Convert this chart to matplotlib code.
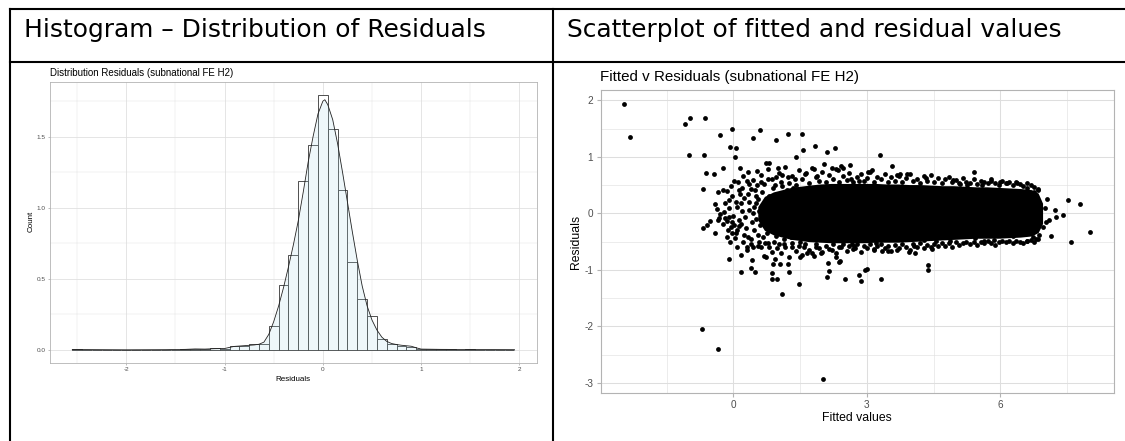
"""Residual diagnostics table: histogram of residuals and fitted-vs-residual scatter."""

from pathlib import Path

import matplotlib

matplotlib.use("Agg")
import matplotlib.pyplot as plt
from matplotlib.lines import Line2D

FIG_W, FIG_H = 1125, 441

HEADER_LEFT = "Histogram – Distribution of Residuals"
HEADER_RIGHT = "Scatterplot of fitted and residual values"

# histogram on density scale, bin width 0.1
BIN_CENTERS = [
    -2.5, -2.4, -2.3, -2.2, -2.1, -2.0, -1.9, -1.8, -1.7, -1.6, -1.5, -1.4, -1.3, -1.2, -1.1,
    -1.0, -0.9, -0.8, -0.7, -0.6, -0.5, -0.4, -0.3, -0.2, -0.1, 0.0, 0.1, 0.2, 0.3, 0.4,
    0.5, 0.6, 0.7, 0.8, 0.9, 1.0, 1.1, 1.2, 1.3, 1.4, 1.5, 1.6, 1.7, 1.8, 1.9,
]
BIN_DENSITY = [
    0.004, 0.0, 0.0, 0.0, 0.0, 0.0, 0.0, 0.0, 0.0, 0.003, 0.002, 0.004, 0.008, 0.005, 0.012,
    0.005, 0.030, 0.028, 0.040, 0.042, 0.170, 0.454, 0.670, 1.190, 1.440, 1.795, 1.554, 1.128, 0.620, 0.358,
    0.236, 0.075, 0.040, 0.030, 0.023, 0.004, 0.004, 0.006, 0.004, 0.0, 0.004, 0.003, 0.002, 0.002, 0.002,
]
BIN_WIDTH = 0.1

# kernel density curve
DENS_X = [
    -2.55, -2.0, -1.6, -1.4, -1.3, -1.2, -1.1, -1.0, -0.95, -0.9, -0.8, -0.7, -0.65, -0.6, -0.55,
    -0.5, -0.45, -0.4, -0.35, -0.3, -0.25, -0.2, -0.15, -0.1, -0.05, 0.0, 0.02, 0.05, 0.1, 0.15,
    0.2, 0.25, 0.3, 0.35, 0.4, 0.45, 0.5, 0.55, 0.6, 0.65, 0.7, 0.75, 0.8, 0.9, 0.95,
    1.0, 1.2, 1.5, 1.95,
]
DENS_Y = [
    0.003, 0.001, 0.002, 0.004, 0.007, 0.006, 0.009, 0.010, 0.018, 0.025, 0.030, 0.035, 0.040, 0.055, 0.110,
    0.200, 0.310, 0.440, 0.585, 0.740, 0.910, 1.110, 1.320, 1.500, 1.660, 1.750, 1.760, 1.725, 1.620, 1.450,
    1.250, 1.040, 0.830, 0.630, 0.450, 0.310, 0.210, 0.140, 0.090, 0.060, 0.045, 0.038, 0.033, 0.026, 0.015,
    0.006, 0.004, 0.003, 0.002,
]

# scatter: individually visible points (fitted, residual)
POINTS_FITTED = [
    -2.46, -2.32, -1.09, -0.98, -0.64, -0.29, -1.00, -0.66, -0.24, -0.61, -0.43, -0.69, -0.35, -0.41,
    -0.37, -0.29, -0.35, -0.53, -0.58, -0.68, -0.41, -0.71, -0.35,
    -0.03, 0.60, 0.45, -0.08, 0.05, 0.03, 0.95, 1.22, 1.54, 1.83, 1.57, 1.42, 2.10, 2.28, 0.16, 0.73,
    0.81, 1.01, 0.54, 0.34, 0.21, 0.01, -0.06, -0.15, -0.19, -0.24, -0.09, -0.06, -0.07, -0.10, 0.09,
    0.18, 0.18, 0.41, 0.40, 0.48, 0.86, 0.99, 0.86, 0.89, 1.05, 1.24, 1.25, 1.10, 1.48, 2.12, 2.16,
    2.11, 2.37, 2.02, 1.50, 1.66, 1.81, 0.74, 0.30, 0.45, 0.56,
    -0.32, -0.19, -0.15, -0.02, 0.02, -0.03, 0.09, 0.17, 0.26, 0.09, 0.18, 0.24, 0.32, 0.39, 0.12,
    -0.02, -0.09, 0.44, 0.53, 0.36, 0.47, 0.32, 0.47, 0.21, 0.39, 0.04, -0.13, -0.24, 0.30, 0.62,
    0.66, 0.71, 0.81, 0.92, 0.99, 1.14, 1.33, 0.77, 0.95, 1.10, 1.22, 1.38, 1.63, 1.81, 1.89, 2.04,
    2.22, 2.35, 2.41, 1.60, 1.85, 1.96, 2.22, 2.30, 2.41, 1.51,
    0.55, 0.60, 0.65, 0.70, 0.75, 0.80, 0.85, 0.90, 0.95, 1.00, 1.05, 1.10, 1.15, 1.20, 1.30, 1.35,
    0.50, 0.58, 0.66,
    3.29, 2.46, 2.63, 3.03, 3.12, 3.56, 3.75, 3.91, 3.67, 2.64, 2.82, 4.33, 4.94, 2.51, 2.82, 2.87,
    2.96, 3.00, 3.32, 4.38, 4.38, 2.40, 2.72, 2.74, 3.17, 3.35, 3.47, 3.68, 3.94, 4.09, 4.06, 4.47,
    4.55, 4.29, 4.87, 2.46, 2.67, 3.21,
    5.40, 5.25, 5.80, 5.99, 6.14, 6.38, 6.85, 7.10, 7.24, 7.25, 7.40, 7.52, 7.58, 7.14, 6.95, 6.87,
    6.74, 6.80, 6.61, 6.67, 6.29, 5.63, 5.86, 5.43, 5.21, 7.79, 8.02,
    5.10, 5.60, 6.60, 6.75, 7.00, 7.02, 7.05,
    -0.20, -0.10, 0.00, 0.05, 0.12, 0.20, 0.28, 0.35, 0.42, 0.50, 0.15, 0.25, 0.40, 0.55, 0.05,
    -0.15, 0.10, 0.20, 0.35, 0.48, 0.58, 0.30, 0.12, 0.44, 0.52,
]
POINTS_RESID = [
    1.94, 1.36, 1.59, 1.69, 1.69, 1.38, 1.03, 1.03, 0.80, 0.71, 0.70, 0.43, 0.38, 0.17,
    0.07, -0.01, -0.12, -0.14, -0.21, -0.25, -0.34, -2.04, -2.40,
    1.49, 1.48, 1.33, 1.18, 1.16, 1.00, 1.30, 1.40, 1.40, 1.19, 1.12, 1.00, 1.09, 1.15, 0.81, 0.90,
    0.90, 0.80, 0.75, 0.73, 0.67, 0.58, 0.48, 0.40, 0.18, 0.41, -0.06, -0.24, -0.50, -0.81, -0.59,
    -0.73, -1.03, -0.83, -0.96, -1.04, -1.05, -1.16, -1.17, -0.90, -0.90, -0.90, -1.03, -1.43, -1.25, -0.87, -1.02,
    -1.13, -0.86, -2.93, -0.78, -0.71, -0.75, -0.77, -0.65, -0.59, -0.58,
    -0.09, -0.09, -0.13, -0.15, -0.21, -0.34, -0.30, -0.18, -0.06, 0.11, 0.18, 0.28, 0.35, 0.44, 0.41,
    0.31, 0.24, 0.59, 0.50, 0.06, 0.12, -0.41, -0.30, -0.50, -0.54, -0.44, -0.30, -0.18, 0.58, 0.56,
    -0.41, -0.53, -0.59, -0.50, -0.62, -0.54, -0.59, 0.60, 0.64, 0.68, 0.64, 0.60, 0.71, 0.78, 0.66, 0.87,
    0.81, 0.77, 0.84, -0.59, -0.59, -0.70, -0.65, -0.77, -0.59, -0.50,
    0.25, -0.20, 0.38, 0.10, -0.35, 0.30, -0.25, 0.45, -0.40, 0.35, -0.30, 0.48, -0.45, 0.42, -0.42, 0.45,
    -0.10, 0.05, -0.05,
    1.03, 0.81, 0.85, 0.73, 0.77, 0.83, 0.70, 0.70, 0.68, 0.60, 0.58, 0.62, 0.59, -1.17, -1.09, -1.20,
    -1.00, -0.98, -1.17, -0.91, -1.01, -0.84, -0.58, -0.62, -0.63, -0.66, -0.66, -0.65, -0.69, -0.71, -0.57, -0.63,
    -0.48, -0.47, -0.48, -0.49, -0.54, -0.53,
    0.74, 0.51, 0.57, 0.55, 0.53, 0.53, 0.41, -0.12, 0.06, -0.06, -0.03, 0.23, -0.51, -0.40, -0.24, -0.38,
    -0.41, -0.46, -0.49, -0.31, -0.40, -0.48, -0.47, -0.43, -0.40, 0.17, -0.33,
    0.52, 0.50, 0.45, 0.38, 0.10, -0.15, 0.25,
    0.02, 0.10, -0.05, 0.20, -0.12, 0.05, -0.25, 0.20, -0.15, 0.30, 0.35, -0.38, -0.45, -0.38, -0.35,
    -0.42, 0.55, 0.45, 0.52, 0.42, -0.50, -0.60, -0.22, 0.00, 0.18,
]

# ragged upper and lower fringe of the dense cloud, one point above and one below at each fitted value
EDGE_FITTED = [
    0.62, 0.70, 0.78, 0.86, 0.93, 1.02, 1.08, 1.16, 1.25, 1.31, 1.40, 1.47, 1.55, 1.62, 1.70, 1.77,
    1.86, 1.92, 2.00, 2.08, 2.15, 2.24, 2.31, 2.38, 2.47, 2.55, 2.61, 2.70, 2.78, 2.86, 2.93, 3.00,
    3.08, 3.17, 3.24, 3.32, 3.40, 3.48, 3.55, 3.63, 3.72, 3.80, 3.88, 3.96, 4.04, 4.12, 4.20, 4.28,
    4.36, 4.44, 4.52, 4.60, 4.68, 4.76, 4.84, 4.92, 5.00, 5.08, 5.16, 5.24, 5.32, 5.40, 5.48, 5.56,
    5.64, 5.72, 5.80, 5.88, 5.96, 6.04, 6.12, 6.20, 6.28, 6.36, 6.44, 6.52, 6.60, 6.68, 6.76, 6.84,
]
EDGE_TOP = [
    0.68, 0.52, 0.78, 0.60, 0.50, 0.72, 0.56, 0.82, 0.54, 0.66, 0.51, 0.76, 0.60, 0.70, 0.53, 0.80,
    0.64, 0.57, 0.74, 0.55, 0.68, 0.60, 0.78, 0.56, 0.66, 0.59, 0.72, 0.55, 0.64, 0.70, 0.58, 0.62,
    0.74, 0.56, 0.65, 0.60, 0.70, 0.55, 0.64, 0.58, 0.67, 0.56, 0.62, 0.70, 0.57, 0.61, 0.54, 0.66,
    0.58, 0.68, 0.56, 0.62, 0.54, 0.60, 0.65, 0.55, 0.59, 0.53, 0.62, 0.56, 0.54, 0.61, 0.52, 0.58,
    0.55, 0.53, 0.60, 0.54, 0.51, 0.57, 0.53, 0.56, 0.50, 0.55, 0.52, 0.49, 0.54, 0.50, 0.47, 0.44,
]
EDGE_BOTTOM = [
    -0.60, -0.76, -0.52, -0.68, -0.80, -0.55, -0.71, -0.60, -0.78, -0.53, -0.66, -0.58, -0.74, -0.55, -0.64, -0.70,
    -0.54, -0.62, -0.68, -0.57, -0.63, -0.55, -0.70, -0.59, -0.54, -0.66, -0.58, -0.63, -0.55, -0.68, -0.57, -0.61,
    -0.54, -0.65, -0.58, -0.55, -0.62, -0.57, -0.67, -0.56, -0.61, -0.54, -0.59, -0.64, -0.55, -0.60, -0.53, -0.62,
    -0.56, -0.59, -0.54, -0.58, -0.52, -0.57, -0.53, -0.59, -0.51, -0.56, -0.52, -0.50, -0.54, -0.51, -0.56, -0.50,
    -0.53, -0.49, -0.52, -0.56, -0.50, -0.48, -0.51, -0.49, -0.52, -0.48, -0.50, -0.53, -0.49, -0.47, -0.51, -0.45,
]

# solid core of overlapping points: upper / lower residual edge along the fitted axis
CORE_FITTED = [0.55, 0.70, 0.90, 1.10, 1.30, 1.50, 1.70, 1.95, 2.20, 2.45, 2.70, 2.95, 3.20, 3.45, 3.70,
               3.95, 4.20, 4.45, 4.70, 4.95, 5.20, 5.45, 5.70, 5.95, 6.20, 6.45, 6.70, 6.85, 6.95]
CORE_UPPER = [0.12, 0.30, 0.38, 0.42, 0.46, 0.48, 0.50, 0.52, 0.53, 0.53, 0.53, 0.53, 0.53, 0.52, 0.52,
              0.51, 0.51, 0.50, 0.49, 0.49, 0.48, 0.47, 0.47, 0.46, 0.45, 0.44, 0.42, 0.36, 0.18]
CORE_LOWER = [-0.12, -0.30, -0.38, -0.42, -0.46, -0.48, -0.50, -0.51, -0.52, -0.52, -0.52, -0.52, -0.51, -0.51, -0.51,
              -0.50, -0.49, -0.48, -0.47, -0.46, -0.45, -0.44, -0.44, -0.44, -0.43, -0.42, -0.40, -0.34, -0.18]

GRID = "#DEDEDE"
BORDER = "#B3B3B3"
TICK_TEXT = "#4D4D4D"
PLOT_FONT = "Liberation Sans"


def axes_px(fig, left, top, right, bottom):
    """Add axes given pixel edges measured from the top-left corner."""
    return fig.add_axes([left / FIG_W, 1 - bottom / FIG_H, (right - left) / FIG_W, (bottom - top) / FIG_H])


def fig_text(fig, x, y, text, **kwargs):
    fig.text(x / FIG_W, 1 - y / FIG_H, text, **kwargs)


def expand(lo, hi, mult=0.05):
    pad = (hi - lo) * mult
    return lo - pad, hi + pad


def style_panel(ax, xmajor, xminor, ymajor, yminor, xlabels, ylabels, size, border_lw, major_lw, minor_lw,
                tick_len, pad):
    ax.set_facecolor("white")
    for spine in ax.spines.values():
        spine.set_color(BORDER)
        spine.set_linewidth(border_lw)
    ax.set_xticks(xmajor)
    ax.set_xticks(xminor, minor=True)
    ax.set_yticks(ymajor)
    ax.set_yticks(yminor, minor=True)
    ax.set_xticklabels(xlabels, fontsize=size, color=TICK_TEXT, family=PLOT_FONT)
    ax.set_yticklabels(ylabels, fontsize=size, color=TICK_TEXT, family=PLOT_FONT)
    ax.tick_params(which="major", length=tick_len, width=border_lw, color=BORDER, pad=pad)
    ax.tick_params(which="minor", length=0)
    ax.grid(True, which="major", color=GRID, linewidth=major_lw)
    ax.grid(True, which="minor", color=GRID, linewidth=minor_lw)
    ax.set_axisbelow(True)


def draw_histogram(fig):
    ax = axes_px(fig, 50.2, 82, 536.6, 362.7)
    lo = BIN_CENTERS[0] - BIN_WIDTH / 2
    hi = BIN_CENTERS[-1] + BIN_WIDTH / 2
    ax.set_xlim(*expand(lo, hi))
    ax.set_ylim(*expand(0, max(BIN_DENSITY)))
    style_panel(
        ax,
        [-2, -1, 0, 1, 2], [-2.5, -1.5, -0.5, 0.5, 1.5],
        [0, 0.5, 1.0, 1.5], [0.25, 0.75, 1.25, 1.75],
        ["-2", "-1", "0", "1", "2"], ["0.0", "0.5", "1.0", "1.5"],
        size=4.6, border_lw=0.6, major_lw=0.55, minor_lw=0.3, tick_len=1.6, pad=1.6,
    )
    ax.bar(BIN_CENTERS, BIN_DENSITY, width=BIN_WIDTH, color="white", edgecolor="#333333",
           linewidth=0.6, zorder=2)
    ax.fill_between(DENS_X, 0, DENS_Y, color="#ADD8E6", alpha=0.2, linewidth=0, zorder=3)
    ax.plot(DENS_X, DENS_Y, color="#222222", linewidth=0.6, zorder=4)

    fig_text(fig, 50.2, 73.3, "Distribution Residuals (subnational FE H2)", fontsize=7.0,
             family=PLOT_FONT, ha="left", va="center")
    fig_text(fig, 293.4, 379.5, "Residuals", fontsize=5.8, family=PLOT_FONT, ha="center", va="center")
    fig_text(fig, 31, 221, "Count", fontsize=5.8, family=PLOT_FONT, ha="center", va="center", rotation=90)


def draw_scatter(fig):
    ax = axes_px(fig, 600.5, 90, 1113.5, 392.7)
    ax.set_xlim(*expand(min(POINTS_FITTED), max(POINTS_FITTED)))
    ax.set_ylim(*expand(min(POINTS_RESID), max(POINTS_RESID)))
    style_panel(
        ax,
        [0, 3, 6], [-1.5, 1.5, 4.5, 7.5],
        [-3, -2, -1, 0, 1, 2], [-2.5, -1.5, -0.5, 0.5, 1.5],
        ["0", "3", "6"], ["-3", "-2", "-1", "0", "1", "2"],
        size=7.2, border_lw=0.8, major_lw=0.75, minor_lw=0.4, tick_len=2.6, pad=2.6,
    )
    ax.fill_between(CORE_FITTED, CORE_LOWER, CORE_UPPER, color="black", linewidth=0, zorder=3)
    dot = dict(s=12, color="black", linewidths=0, zorder=4)
    ax.scatter(POINTS_FITTED, POINTS_RESID, **dot)
    ax.scatter(EDGE_FITTED, EDGE_TOP, **dot)
    ax.scatter(EDGE_FITTED, EDGE_BOTTOM, **dot)

    fig_text(fig, 600.5, 76.5, "Fitted v Residuals (subnational FE H2)", fontsize=10.9,
             family=PLOT_FONT, ha="left", va="center")
    fig_text(fig, 857, 418, "Fitted values", fontsize=8.8, family=PLOT_FONT, ha="center", va="center")
    fig_text(fig, 576, 241.5, "Residuals", fontsize=8.8, family=PLOT_FONT, ha="center", va="center",
             rotation=90)


def draw_table(fig):
    lw = 1.5
    top, header_bottom, left, middle = 9, 62, 10, 553
    for y in (top, header_bottom):
        fig.add_artist(Line2D([left / FIG_W, 1], [1 - y / FIG_H] * 2, color="black", linewidth=lw))
    for x in (left, middle):
        fig.add_artist(Line2D([x / FIG_W] * 2, [1 - top / FIG_H, 0], color="black", linewidth=lw))
    fig_text(fig, 24, 37, HEADER_LEFT, fontsize=17.9, family="DejaVu Sans", ha="left", va="baseline")
    fig_text(fig, 567, 37, HEADER_RIGHT, fontsize=17.9, family="DejaVu Sans", ha="left", va="baseline")


def main():
    fig = plt.figure(figsize=(FIG_W / 100, FIG_H / 100), dpi=100)
    fig.patch.set_facecolor("white")
    draw_histogram(fig)
    draw_scatter(fig)
    draw_table(fig)
    output = Path("out.png")
    fig.savefig(output, dpi=100)
    plt.close(fig)


if __name__ == "__main__":
    main()
